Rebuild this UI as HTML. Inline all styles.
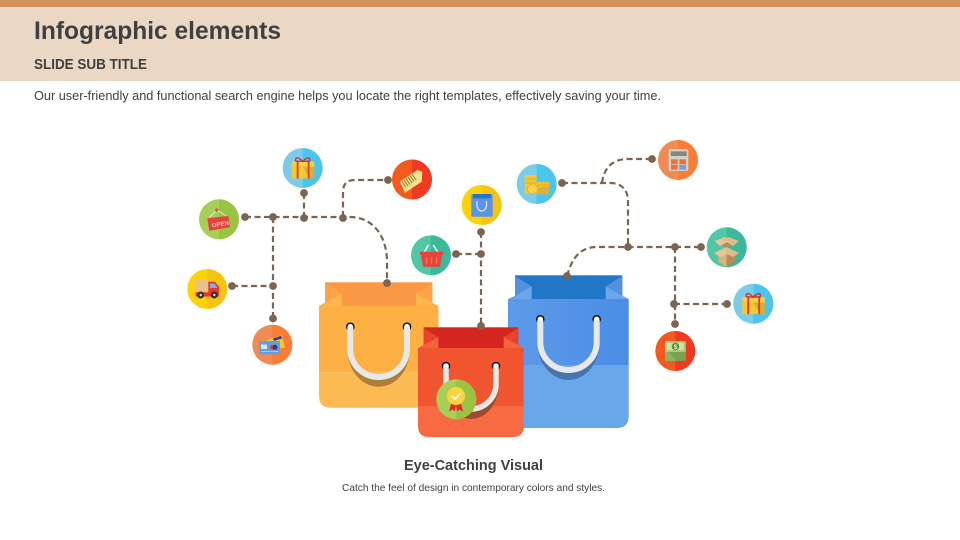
<!DOCTYPE html>
<html><head><meta charset="utf-8"><style>
html,body{margin:0;padding:0;background:#fff}
svg{display:block}
text{font-family:"Liberation Sans",sans-serif}
</style></head><body>
<svg width="960" height="540" viewBox="0 0 960 540" xmlns="http://www.w3.org/2000/svg">
<defs>
<linearGradient id="bg" x1="0" y1="0" x2="1" y2="0"><stop offset="0" stop-color="#5e9ae8"/><stop offset="1" stop-color="#4a8de6"/></linearGradient>
<g id="gift">
<rect x="-11" y="-6" width="22.500" height="16.500" fill="#f3c832"/>
<polygon points="0,-1 11.500,-1 11.500,10.500 7,10.500" fill="#d8ae35"/>
<rect x="-11" y="-6.500" width="22.500" height="4" fill="#f6d04a"/>
<rect x="-6" y="-6.500" width="1.800" height="17" fill="#e53b2c"/><rect x="5" y="-6.500" width="1.800" height="17" fill="#e53b2c"/>
<path d="M0,-6.500 C-4,-11 -8,-11.500 -7,-7 L0,-6.500 C4,-11 8,-11.500 7,-7 L0,-6.500" fill="none" stroke="#d62d2a" stroke-width="1.300"/>
</g>
</defs>

<rect width="960" height="81" fill="#ead8c5"/>
<rect width="960" height="7" fill="#d29259"/>
<text x="34" y="39" font-size="25" font-weight="700" fill="#404040" textLength="247" lengthAdjust="spacingAndGlyphs">Infographic elements</text>
<text x="34" y="69" font-size="14.500" font-weight="700" fill="#404040" textLength="113" lengthAdjust="spacingAndGlyphs">SLIDE SUB TITLE</text>
<text x="34" y="100" font-size="12.500" fill="#404040" textLength="627" lengthAdjust="spacingAndGlyphs">Our user-friendly and functional search engine helps you locate the right templates, effectively saving your time.</text>
<text x="404" y="470" font-size="14.500" font-weight="700" fill="#404040" textLength="139" lengthAdjust="spacingAndGlyphs">Eye-Catching Visual</text>
<text x="342" y="491" font-size="10.500" fill="#404040" textLength="263" lengthAdjust="spacingAndGlyphs">Catch the feel of design in contemporary colors and styles.</text>

<!-- connectors -->
<g fill="none" stroke="#7b6450" stroke-width="2.200" stroke-dasharray="6 3.500">
<path d="M245,217 H350 C372,217 387,235 387,262 V283"/>
<path d="M343,217 V192 C343,184 347,180 355,180 H388"/>
<path d="M304,193 V217"/>
<path d="M273,217 V318"/>
<path d="M232,286 H273"/>
<path d="M456,254 H481"/>
<path d="M481,232 V326"/>
<path d="M567,276 C572,258 580,247 597,247 H701"/>
<path d="M562,183 H610 C622,183 628,190 628,202 V247"/>
<path d="M602,183 C604,168 612,159 628,159 H652"/>
<path d="M675,247 V324"/>
<path d="M674,304 H727"/>
</g>
<g fill="#7b6450">
<circle cx="245" cy="217" r="3.900"/><circle cx="273" cy="217" r="3.900"/><circle cx="304" cy="218" r="3.900"/><circle cx="343" cy="218" r="3.900"/>
<circle cx="304" cy="193" r="3.900"/><circle cx="388" cy="180" r="3.900"/><circle cx="232" cy="286" r="3.900"/><circle cx="273" cy="286" r="3.900"/><circle cx="273" cy="318.500" r="3.900"/>
<circle cx="456" cy="254" r="3.900"/><circle cx="481" cy="254" r="3.900"/><circle cx="481" cy="232" r="3.900"/>
<circle cx="562" cy="183" r="3.900"/><circle cx="652" cy="159" r="3.900"/><circle cx="628" cy="247" r="3.900"/><circle cx="675" cy="247" r="3.900"/><circle cx="701" cy="247" r="3.900"/>
<circle cx="674" cy="304" r="3.900"/><circle cx="727" cy="304" r="3.900"/><circle cx="675" cy="324" r="3.900"/>
</g>

<!-- orange bag -->
<rect x="325" y="282.300" width="107.500" height="30" fill="#fb9843"/>
<polygon points="325,283 342,293.500 325,302.700" fill="#fca34a"/>
<polygon points="342,293.500 342,306 325,306 325,302.700" fill="#fdb64f"/>
<polygon points="432.500,283 416,293.500 432.500,302.700" fill="#fca34a"/>
<polygon points="416,293.500 416,306 432.500,306 432.500,302.700" fill="#fdb64f"/>
<polygon points="319,306 325,302.700 325,306" fill="#fdb044"/><polygon points="438.500,306 432.500,302.700 432.500,306" fill="#fdb044"/>
<rect x="319" y="305.700" width="119.500" height="67" fill="#fdb044"/>
<path d="M319,372.700 H438.500 V396 Q438.500,407.700 427,407.700 H331 Q319,407.700 319,396 Z" fill="#fcba52"/>
<path d="M347.300,349 A31.350,37.700 0 0 0 410,349 A31.350,31 0 0 1 347.300,349 Z" fill="#ac8038"/>
<circle cx="350.300" cy="326.700" r="4.300" fill="#111"/><circle cx="407" cy="326.700" r="4.300" fill="#111"/>
<circle cx="350.300" cy="326.700" r="2.800" fill="#fff"/><circle cx="407" cy="326.700" r="2.800" fill="#fff"/>
<path d="M350.300,327 V349 A28.350,28 0 0 0 407,349 V327" fill="none" stroke="#e8e8e8" stroke-width="6"/>

<!-- blue bag -->
<rect x="515" y="275.300" width="107.300" height="30" fill="#2276c8"/>
<polygon points="515,276 531.700,286.500 515,295.700" fill="#5590e0"/>
<polygon points="531.700,286.500 531.700,299 515,299 515,295.700" fill="#6ba6ea"/>
<polygon points="622.300,276 605.700,286.500 622.300,295.700" fill="#5590e0"/>
<polygon points="605.700,286.500 605.700,299 622.300,299 622.300,295.700" fill="#6ba6ea"/>
<polygon points="508,299 515,295.700 515,299" fill="#6aa4e8"/><polygon points="628.700,299 622.300,295.700 622.300,299" fill="#6aa4e8"/>
<rect x="508" y="299" width="120.700" height="66" fill="url(#bg)"/>
<path d="M508,365 H628.700 V416 Q628.700,428 617,428 H508 Z" fill="#6aa6ea"/>
<path d="M537.300,342 A31.200,38 0 0 0 599.700,342 A31.200,31 0 0 1 537.300,342 Z" fill="#4775a8"/>
<circle cx="540.300" cy="319.300" r="4.300" fill="#111"/><circle cx="596.700" cy="319.300" r="4.300" fill="#111"/>
<circle cx="540.300" cy="319.300" r="2.800" fill="#fff"/><circle cx="596.700" cy="319.300" r="2.800" fill="#fff"/>
<path d="M540.300,320 V342 A28.200,28 0 0 0 596.700,342 V320" fill="none" stroke="#e8e8e8" stroke-width="6"/>

<!-- red bag -->
<rect x="423.700" y="327.300" width="94.600" height="25" fill="#d5251f"/>
<polygon points="423.700,328 438.300,337 423.700,345" fill="#e8432c"/>
<polygon points="438.300,337 438.300,348 423.700,348 423.700,345" fill="#f4633c"/>
<polygon points="518.300,328 503.700,337 518.300,345" fill="#e8432c"/>
<polygon points="503.700,337 503.700,348 518.300,348 518.300,345" fill="#f4633c"/>
<polygon points="418,348 423.700,345 423.700,348" fill="#f25f38"/><polygon points="523.700,348 518.300,345 518.300,348" fill="#f25f38"/>
<rect x="418" y="348" width="105.700" height="58" fill="#f15530"/>
<path d="M418,406 H523.700 V426 Q523.700,437 513,437 H429 Q418,437 418,426 Z" fill="#f76a42"/>
<path d="M443.250,384 A27.750,35 0 0 0 498.750,384 A27.750,27.750 0 0 1 443.250,384 Z" fill="#9c4a30"/>
<circle cx="446" cy="366" r="4.300" fill="#111"/><circle cx="496" cy="366" r="4.300" fill="#111"/>
<circle cx="446" cy="366" r="2.800" fill="#fff"/><circle cx="496" cy="366" r="2.800" fill="#fff"/>
<path d="M446,367 V384 A25,25 0 0 0 496,384 V367" fill="none" stroke="#e8e8e8" stroke-width="5.500"/>
<circle cx="456.300" cy="399.300" r="20" fill="#a7cf58"/><path d="M456.300,379.300 a20,20 0 0 1 0,40 Z" fill="#99c343"/>
<path d="M451.500,402 L449,411.500 L452.500,409.500 L455,411.500 L456,404 L457,411.500 L459.500,409.500 L463,411.500 L460.500,402 Z" fill="#e5262b"/>
<circle cx="456" cy="396" r="9" fill="#fcd53c"/>
<path d="M452,396 L455,399 L460.500,393.500" fill="none" stroke="#fff" stroke-width="1.600"/>

<!-- dots on bags -->
<g fill="#7b6450"><circle cx="387" cy="283" r="3.900"/><circle cx="567" cy="276" r="3.900"/><circle cx="481" cy="326" r="3.900"/></g>

<!-- gift -->
<circle cx="302.700" cy="168" r="20" fill="#7ccbea"/><path d="M302.700,148 a20,20 0 0 1 0,40 Z" fill="#4cc5ec"/>
<use href="#gift" x="302.700" y="168"/>

<!-- tag -->
<circle cx="412" cy="179.500" r="20" fill="#f45a1f"/><path d="M412,159.500 a20,20 0 0 1 0,40 Z" fill="#ee3a22"/>
<polygon points="400,181.700 417.300,170 422.300,171.700 421.700,181.700 405,192.700" fill="#f2e08a"/>
<path d="M402,181.500 L406,187.500 M404,180 L408,186 M406,178.500 L410,184.500 M408,177 L412,183 M410,175.500 L414,181.500 M412,174 L416,180" stroke="#8a7a30" stroke-width="1"/>

<!-- open -->
<circle cx="219" cy="219.300" r="20" fill="#a7cf58"/><path d="M219,199.300 a20,20 0 0 1 0,40 Z" fill="#99c343"/>
<path d="M209,218 L216.700,210 L227,216.500" fill="none" stroke="#e8e8d8" stroke-width="1"/>
<circle cx="216.700" cy="210" r="1.600" fill="#e0553a"/>
<polygon points="207.300,218.300 228.300,216 230,227.300 209.300,230.700" fill="#e8403c"/>
<text x="212" y="226.500" font-size="6" font-weight="700" fill="#ffd0c8" transform="rotate(-9 218 225)">OPEN</text>

<!-- truck -->
<circle cx="207.300" cy="289" r="20" fill="#fdd20a"/><path d="M207.300,269 a20,20 0 0 1 0,40 Z" fill="#f6c414"/>
<rect x="195.700" y="279.300" width="12.600" height="13" fill="#e8c088"/>
<path d="M208.300,281.700 H215 L219,287 V296.500 H195.500 V292.300 H208.300 Z" fill="#e8352e"/>
<polygon points="210,283.500 214.500,283.500 217.500,288 210,288" fill="#7fb0e8"/>
<circle cx="200.700" cy="295" r="3.500" fill="#333"/><circle cx="214.300" cy="295" r="3.500" fill="#333"/>
<circle cx="200.700" cy="295" r="1.200" fill="#ddd"/><circle cx="214.300" cy="295" r="1.200" fill="#ddd"/>

<!-- card -->
<circle cx="272.300" cy="344.700" r="20" fill="#ef8c55"/><path d="M272.300,324.700 a20,20 0 0 1 0,40 Z" fill="#fb7c35"/>
<polygon points="266.700,340 281.700,335 285,347.300 280,348.500 270,345" fill="#f0c93e"/>
<polygon points="273,338.500 281,335.700 282,338.500 274,341" fill="#3b3f8c"/>
<rect x="259.300" y="341" width="20.700" height="13.300" fill="#5fa0e4"/>
<rect x="261" y="344.500" width="6" height="4.500" fill="#d8e8f8"/>
<rect x="261" y="351" width="17" height="1" fill="#a8cdf0"/>
<circle cx="272.500" cy="347.300" r="2.500" fill="#e84030"/><circle cx="275" cy="347.300" r="2.500" fill="#2c3a8c"/>

<!-- basket -->
<circle cx="431" cy="255.300" r="20" fill="#52c7a8"/><path d="M431,235.300 a20,20 0 0 1 0,40 Z" fill="#3cb89b"/>
<path d="M424,253 L428.300,245 M438.300,253 L433.300,245" stroke="#eee" stroke-width="1.600"/>
<rect x="420" y="251.700" width="23" height="3.300" fill="#e8433c"/>
<polygon points="421,255 442,255 440,266.700 423,266.700" fill="#e8433c"/>
<path d="M426.500,257.500 V263.500 M431.500,257.500 V263.500 M436.500,257.500 V263.500" stroke="#f27a68" stroke-width="1.300"/>

<!-- bag icon -->
<circle cx="481.700" cy="205" r="20" fill="#fdd20a"/><path d="M481.700,185 a20,20 0 0 1 0,40 Z" fill="#f6c414"/>
<rect x="471.300" y="194" width="21.400" height="22.700" rx="1.500" fill="#5a93e6"/>
<rect x="473" y="194" width="18" height="4.300" fill="#2276c8"/>
<path d="M477,201 V205 A4.700,6 0 0 0 486.500,205 V201" fill="none" stroke="#e8e8e8" stroke-width="1.200"/>

<!-- coins -->
<circle cx="536.700" cy="184" r="20" fill="#7ccbea"/><path d="M536.700,164 a20,20 0 0 1 0,40 Z" fill="#4cc5ec"/>
<rect x="524.700" y="175" width="12" height="19" rx="1" fill="#f3c832"/>
<rect x="536.700" y="181.700" width="12.600" height="12.600" rx="1" fill="#f0c030"/>
<polygon points="536.700,194.300 549.300,194.300 549.300,187 541,187" fill="#d8b048"/>
<circle cx="532.500" cy="189" r="5" fill="#f9d24a" stroke="#e0aa20" stroke-width=".7"/>
<path d="M525,179 H536.500 M525,183 H536.500 M537,185 H549 M537,189 H549" stroke="#d8a828" stroke-width=".8"/>

<!-- calculator -->
<circle cx="678" cy="160" r="20" fill="#ef8c55"/><path d="M678,140 a20,20 0 0 1 0,40 Z" fill="#fb7c35"/>
<rect x="668.700" y="149" width="19.600" height="22" rx="2" fill="#d4d2c8"/>
<rect x="670.700" y="151.300" width="16" height="4.700" fill="#7f8a84"/>
<rect x="671" y="159.300" width="6.700" height="5" fill="#f0703a"/><rect x="679.300" y="159.300" width="6.700" height="5" fill="#f0703a"/>
<rect x="671" y="165" width="6.700" height="4.700" fill="#f0703a"/><rect x="679.300" y="165" width="6.700" height="4.700" fill="#6aa4e8"/>

<!-- box -->
<circle cx="726.700" cy="247.300" r="20" fill="#52c7a8"/><path d="M726.700,227.300 a20,20 0 0 1 0,40 Z" fill="#3cb89b"/>
<polygon points="718.500,256 726.700,253 726.700,267 718.500,262" fill="#dcb27e"/>
<polygon points="735,256 726.700,253 726.700,267 735,262" fill="#b9895a"/>
<polygon points="719,243 726.700,240 734,243 726.700,248" fill="#b98a58"/>
<polygon points="714.500,241 725,237 731,240 720,246" fill="#e9c695"/>
<polygon points="738.900,241 728.400,237 722.400,240 733.400,246" fill="#e2bb88"/>
<polygon points="714,253 726.700,247 726.700,254 720,257" fill="#e9c695"/>
<polygon points="739,253 726.700,247 726.700,254 733,257" fill="#e2bb88"/>

<!-- gift 2 -->
<circle cx="753.300" cy="303.700" r="20" fill="#7ccbea"/><path d="M753.300,283.700 a20,20 0 0 1 0,40 Z" fill="#4cc5ec"/>
<use href="#gift" x="753.300" y="303.700"/>

<!-- money -->
<circle cx="675.300" cy="351" r="20" fill="#f45a1f"/><path d="M675.300,331 a20,20 0 0 1 0,40 Z" fill="#ee3a22"/>
<rect x="665" y="341" width="20.700" height="20" fill="#8ab060"/>
<rect x="665" y="341" width="20.700" height="11" fill="#a9cc78"/>
<rect x="667" y="343" width="16.700" height="7" fill="#cfe2a8"/>
<circle cx="675.500" cy="346.500" r="3.800" fill="#5f8f3c"/>
<text x="675.500" y="349" font-size="6" font-weight="700" fill="#e8f0d0" text-anchor="middle">$</text>
<polygon points="669,352 685.700,352 685.700,361 677,361" fill="#7da04e"/>
</svg>
</body></html>
